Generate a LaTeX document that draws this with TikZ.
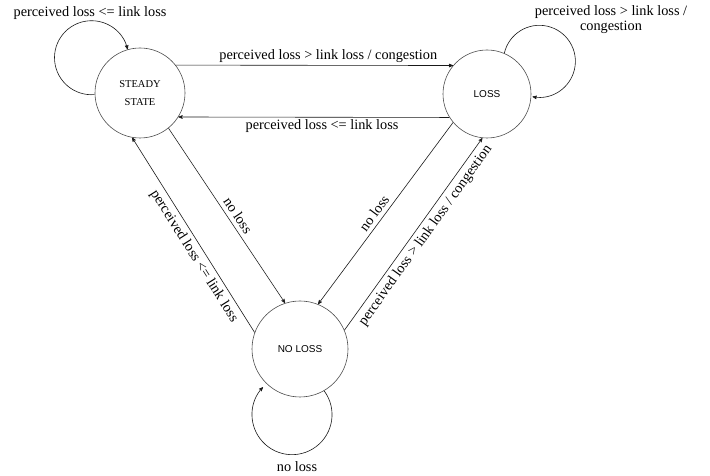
\documentclass[tikz,border=0pt]{standalone}
\usepackage{fontspec}
\setmainfont{Liberation Serif}
\newfontfamily\statesans{Liberation Sans}
\usepackage{tikz}
\usetikzlibrary{arrows}
\usetikzlibrary{shapes,positioning,calc}

\begin{document}
\begin{tikzpicture}[x=1pt,y=1pt,>=stealth',line width=0.6pt,
		state/.style={circle,draw=black!70,inner sep=0pt},
		trans/.style={->,draw=black!90},
		lbl/.style={font=\fontsize{14.3}{15}\selectfont,inner sep=2pt}]
	\useasboundingbox (0,0) rectangle (710,476);
	% states
	\node[state,minimum size=90pt,align=center,font=\fontsize{10.5}{18}\selectfont] (ss) at (140,383) {STEADY\\STATE};
	\node[state,minimum size=88pt,font=\statesans\fontsize{10}{12}\selectfont] (loss) at (487,382) {LOSS};
	\node[state,minimum size=96pt,font=\statesans\fontsize{10}{12}\selectfont] (nl) at (300,127) {NO LOSS};
	% transitions
	\draw[trans] (ss.38) -- node[lbl,above,pos=0.55] (t1) {perceived loss > link loss / congestion} (loss.140);
	\draw[trans] (loss.-148) -- node[lbl,below,pos=0.47] (t2) {perceived loss <= link loss} (ss.-32);
	\draw[trans] (ss.-51) -- node[lbl,sloped,above,pos=0.53,inner sep=4pt] (t3) {no loss} (nl.108);
	\draw[trans] (nl.160) -- node[lbl,sloped,below,pos=0.42,inner sep=4pt] (t4) {perceived loss <= link loss} (ss.-100);
	\draw[trans] (loss.-140) -- node[lbl,sloped,above,pos=0.53,inner sep=4pt] (t5) {no loss} (nl.68);
	\draw[trans] (nl.23) -- node[lbl,sloped,below,pos=0.525,inner sep=4pt] (t6) {perceived loss > link loss / congestion} (loss.-96);
	% self loops
	\draw[trans] (ss.182) arc[start angle=-85,end angle=-347,radius=37];
	\draw[trans] (loss.67) arc[start angle=167,end angle=-101,radius=36];
	\draw[trans] (nl.-60) arc[start angle=36.6,end angle=-223.4,radius=40];
	\node[lbl] (s1) at (90,463) {perceived loss <= link loss};
	\node[lbl,align=center] (s2) at (611,456) {perceived loss > link loss /\\congestion};
	\node[lbl] (s3) at (297,9) {no loss};
\end{tikzpicture}
\end{document}
